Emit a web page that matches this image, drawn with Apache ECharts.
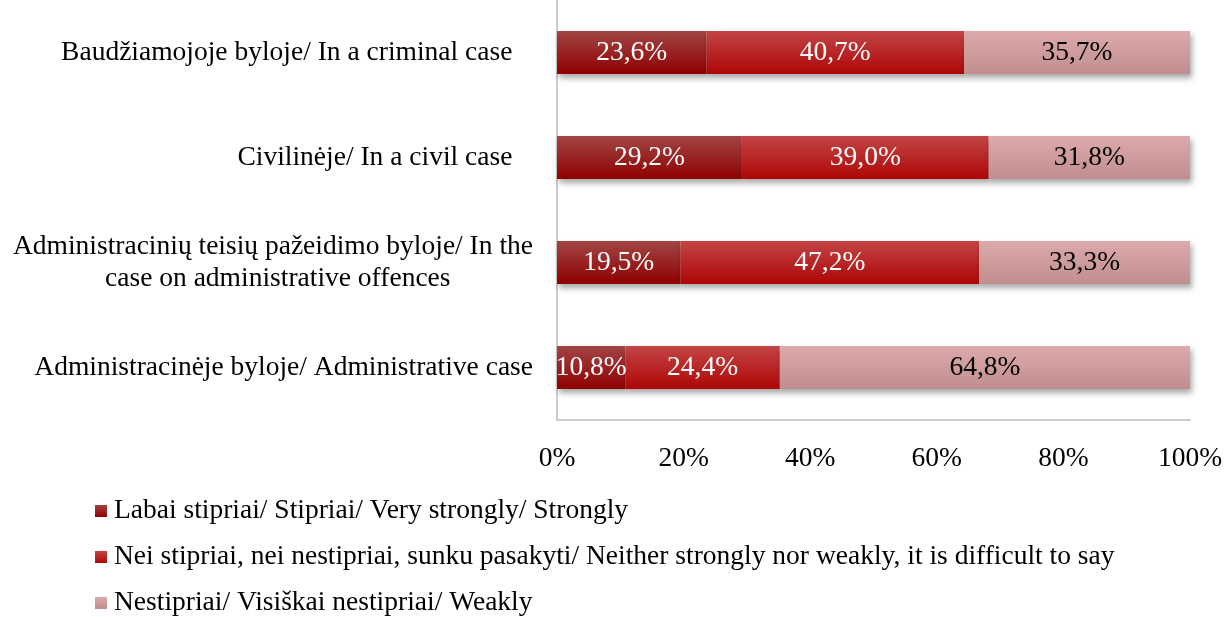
<!DOCTYPE html>
<html>
<head>
<meta charset="utf-8">
<script src="https://cdn.jsdelivr.net/npm/echarts@6/dist/echarts.min.js"></script>
<style>
  html, body { margin: 0; padding: 0; background: #fff; }
  #main { width: 1227px; height: 617px; }
</style>
</head>
<body>
<div id="main"></div>
<script>
var categories = [
  'Baudžiamojoje byloje/ In a criminal case   ',
  'Civilinėje/ In a civil case   ',
  'Administracinių teisių pažeidimo byloje/ In the\ncase on administrative offences            ',
  'Administracinėje byloje/ Administrative case'
];
var seriesNames = [
  'Labai stipriai/ Stipriai/ Very strongly/ Strongly',
  'Nei stipriai, nei nestipriai, sunku pasakyti/ Neither strongly nor weakly, it is difficult to say',
  'Nestipriai/ Visiškai nestipriai/ Weakly'
];
var strongValues = [23.6, 29.2, 19.5, 10.8];
var neutralValues = [40.7, 39.0, 47.2, 24.4];
var weakValues = [35.7, 31.8, 33.3, 64.8];
var xTicks = [0, 20, 40, 60, 80, 100];

var fontFamily = '"Liberation Serif", "Times New Roman", serif';
var fontSize = 27.5;

function grad(top, bottom) {
  return new echarts.graphic.LinearGradient(0, 0, 0, 1, [
    { offset: 0, color: top },
    { offset: 1, color: bottom }
  ]);
}

function makeSeries(name, data, top, bottom, labelColor) {
  return {
    name: name,
    type: 'bar',
    stack: 'total',
    barWidth: 43,
    data: data,
    itemStyle: {
      color: grad(top, bottom),
      shadowColor: 'rgba(0,0,0,0.35)',
      shadowBlur: 6,
      shadowOffsetX: 2,
      shadowOffsetY: 4
    },
    label: {
      show: true,
      position: 'inside',
      color: labelColor,
      fontFamily: fontFamily,
      fontSize: fontSize,
      formatter: function (p) {
        return p.value.toFixed(1).replace('.', ',') + '%';
      }
    }
  };
}

// one legend block per row so they stack without wrapping
function legendRow(name, top) {
  return {
    orient: 'vertical',
    left: 95,
    top: top,
    padding: 0,
    itemWidth: 12,
    itemHeight: 12,
    icon: 'rect',
    textStyle: { fontFamily: fontFamily, fontSize: fontSize, color: '#000', padding: [0, 0, 0, 2] },
    data: [name]
  };
}

var chart = echarts.init(document.getElementById('main'));
chart.setOption({
  animation: false,
  textStyle: { fontFamily: fontFamily },
  grid: { left: 557, right: 37, top: 0, bottom: 197, containLabel: false },
  legend: [
    legendRow(seriesNames[0], 497),
    legendRow(seriesNames[1], 543),
    legendRow(seriesNames[2], 589)
  ],
  xAxis: {
    type: 'value',
    min: 0,
    max: 100,
    interval: 20,
    axisLine: { show: true, lineStyle: { color: '#bdbdbd', width: 1.5 } },
    axisTick: { show: false },
    splitLine: { show: false },
    axisLabel: {
      color: '#000',
      fontFamily: fontFamily,
      fontSize: fontSize,
      margin: 25,
      formatter: function (v) { return xTicks.indexOf(v) >= 0 ? v + '%' : ''; }
    }
  },
  yAxis: {
    type: 'category',
    inverse: true,
    data: categories,
    axisLine: { show: true, lineStyle: { color: '#bdbdbd', width: 1.5 } },
    axisTick: { show: false },
    axisLabel: {
      color: '#000',
      fontFamily: fontFamily,
      fontSize: fontSize,
      margin: 24,
      lineHeight: 32
    }
  },
  series: [
    makeSeries(seriesNames[0], strongValues, '#a34545', '#8e0000', '#fff'),
    makeSeries(seriesNames[1], neutralValues, '#c34545', '#ae0606', '#fff'),
    makeSeries(seriesNames[2], weakValues, '#dcaaaa', '#c08e8e', '#000')
  ]
});
</script>
</body>
</html>
